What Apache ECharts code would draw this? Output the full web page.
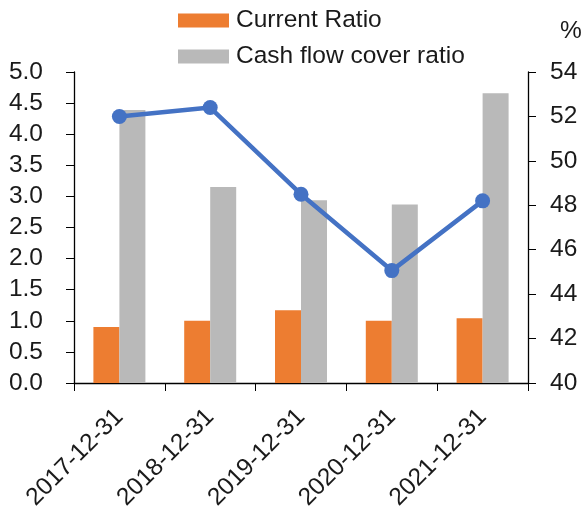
<!DOCTYPE html>
<html>
<head>
<meta charset="utf-8">
<script src="https://cdn.jsdelivr.net/npm/echarts@6/dist/echarts.min.js"></script>
<style>
  html, body { margin: 0; padding: 0; background: #fff; }
  #container { width: 585px; height: 516px; }
</style>
</head>
<body>
<div id="container"></div>
<script>
var dates = ['2017-12-31', '2018-12-31', '2019-12-31', '2020-12-31', '2021-12-31'];
var currentRatio = [0.90, 1.00, 1.17, 1.00, 1.04];
var cashFlowCover = [4.39, 3.15, 2.94, 2.87, 4.66];
var pctLine = [52.0, 52.4, 48.5, 45.06, 48.2];

var leftTicks = { min: 0, max: 5, interval: 0.5 };
var rightTicks = { min: 40, max: 54, interval: 2 };

var font = 'Liberation Sans, Arial, sans-serif';
var fs = 24.5;
var axisColor = '#000';

var dom = document.getElementById('container');
var myChart = echarts.init(dom, null, { renderer: 'canvas' });

var option = {
    animation: false,
    textStyle: { fontFamily: font },
    legend: {
        data: ['Current Ratio', 'Cash flow cover ratio'],
        orient: 'vertical',
        left: 173,
        top: 3,
        itemWidth: 51,
        itemHeight: 14,
        itemGap: 11,
        icon: 'rect',
        textStyle: { fontSize: fs, color: '#1a1a1a', fontFamily: font, padding: [0, 0, 0, 2] }
    },
    grid: {
        left: 74,
        right: 57,
        top: 72,
        bottom: 133
    },
    xAxis: {
        type: 'category',
        data: dates,
        axisLine: { lineStyle: { color: axisColor, width: 1.3 } },
        axisTick: { show: true, inside: false, length: 8, lineStyle: { color: axisColor } },
        axisLabel: {
            rotate: 45,
            margin: 30,
            fontSize: fs,
            color: '#1a1a1a',
            fontFamily: font
        }
    },
    yAxis: [
        {
            type: 'value',
            min: leftTicks.min,
            max: leftTicks.max,
            interval: leftTicks.interval,
            splitLine: { show: false },
            axisLine: { show: true, lineStyle: { color: axisColor, width: 1.3 } },
            axisTick: { show: true, length: 8, lineStyle: { color: axisColor } },
            axisLabel: {
                margin: 31,
                fontSize: fs,
                color: '#1a1a1a',
                fontFamily: font,
                formatter: function (v) { return v.toFixed(1); }
            }
        },
        {
            type: 'value',
            min: rightTicks.min,
            max: rightTicks.max,
            interval: rightTicks.interval,
            name: '%',
            nameLocation: 'end',
            nameGap: 28,
            nameTextStyle: { fontSize: fs, color: '#1a1a1a', fontFamily: font, align: 'left', padding: [0, 0, 0, 32] },
            splitLine: { show: false },
            axisLine: { show: true, lineStyle: { color: axisColor, width: 1.3 } },
            axisTick: { show: true, length: 8, lineStyle: { color: axisColor } },
            axisLabel: {
                margin: 22,
                fontSize: fs,
                color: '#1a1a1a',
                fontFamily: font
            }
        }
    ],
    series: [
        {
            name: 'Current Ratio',
            type: 'bar',
            data: currentRatio,
            barWidth: 26,
            barGap: '0%',
            itemStyle: { color: '#ED7D31' },
            yAxisIndex: 0
        },
        {
            name: 'Cash flow cover ratio',
            type: 'bar',
            data: cashFlowCover,
            barWidth: 26,
            barGap: '0%',
            itemStyle: { color: '#B9B9B9' },
            yAxisIndex: 0
        },
        {
            name: 'ratio %',
            type: 'line',
            data: pctLine,
            yAxisIndex: 1,
            symbol: 'circle',
            symbolSize: 15,
            lineStyle: { color: '#4472C4', width: 4.5 },
            itemStyle: { color: '#4472C4' },
            z: 5
        }
    ]
};

myChart.setOption(option);
window.addEventListener('resize', myChart.resize);
</script>
</body>
</html>
